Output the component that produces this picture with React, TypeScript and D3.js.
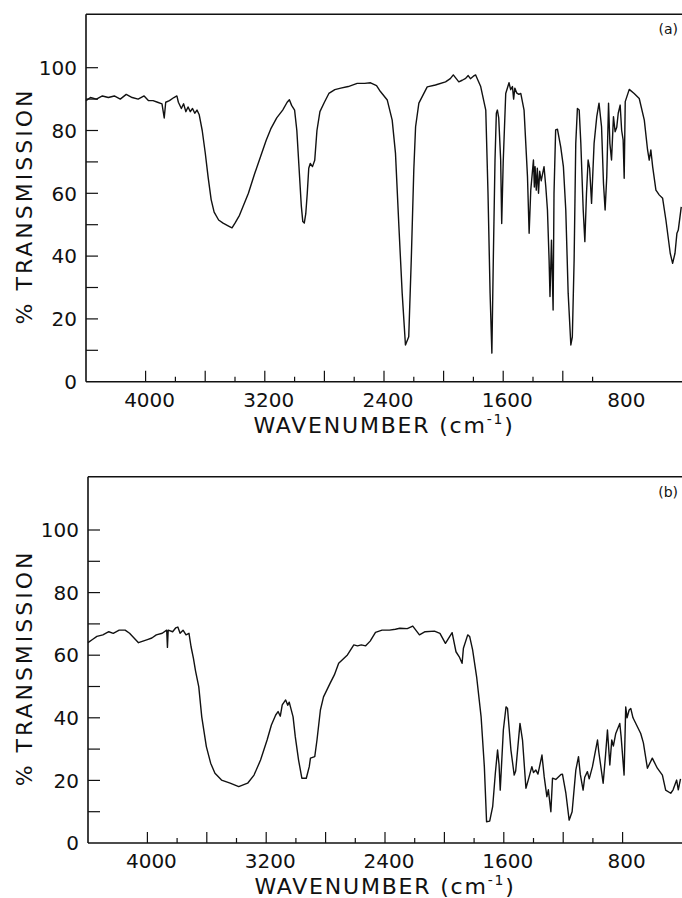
import React from "react";
import * as d3 from "d3";

// ---------- data ----------
const waveA = [
  4400, 4370, 4330, 4290, 4250, 4210, 4170, 4130, 4090, 4050, 4010, 3980, 3950, 3920, 3890, 3875, 3865, 3840,
  3810, 3790, 3780, 3760, 3745, 3730, 3715, 3700, 3685, 3670, 3655, 3640, 3620, 3600, 3580, 3560, 3540, 3510,
  3480, 3440, 3420, 3400, 3370, 3340, 3310, 3270, 3230, 3190, 3160, 3120, 3080, 3050, 3035, 3020, 3000, 2985,
  2970, 2955, 2945, 2935, 2925, 2915, 2905, 2895, 2880, 2865, 2850, 2830, 2800, 2770, 2730, 2690, 2640, 2580,
  2530, 2490, 2450, 2424, 2378, 2345, 2323, 2300, 2278, 2256, 2234, 2217, 2200, 2188, 2166, 2110, 2055, 1987,
  1955, 1935, 1915, 1898, 1875, 1852, 1835, 1820, 1800, 1785, 1751, 1717, 1702, 1688, 1676, 1666, 1655, 1646,
  1639, 1630, 1617, 1610, 1600, 1583, 1561, 1550, 1538, 1530, 1522, 1510, 1495, 1482, 1460, 1437, 1426, 1415,
  1397, 1391, 1386, 1378, 1371, 1363, 1355, 1345, 1326, 1314, 1303, 1292, 1286, 1276, 1265, 1259, 1248, 1236,
  1214, 1196, 1180, 1164, 1146, 1136, 1124, 1113, 1102, 1090, 1079, 1063, 1052, 1041, 1030, 1020, 1007, 990,
  972, 957, 940, 927, 916, 905, 893, 884, 873, 860, 849, 838, 828, 815, 805, 795, 788, 781, 754, 721, 687, 653,
  631, 620, 609, 597, 575, 553, 530, 508, 479, 463, 447, 434, 425, 405,
];
const transA = [
  89.5, 90.5, 90, 91, 90.5, 91, 90, 91.5, 90.5, 90, 91, 89.5, 89.5, 89, 88.5, 84, 89, 89.5,
  90.5, 91, 89, 87, 88.5, 86, 87.5, 86, 87, 85.5, 86.5, 85, 80, 73, 65, 58, 54, 51.5,
  50.5, 49.5, 49, 50.5, 53, 56.5, 60, 66, 71.5, 77, 80.5, 84, 86.5, 89, 89.8, 88, 86.5, 80,
  68, 56, 51, 50.5, 53.5, 60, 68, 69.5, 68.5, 70.5, 80, 86, 89, 91.8, 93, 93.5, 94, 95,
  95, 95.2, 94.3, 92.4, 89.7, 83.3, 72.8, 49.4, 28.2, 11.7, 14.3, 38.8, 67.4, 81.2, 88.7, 93.9, 94.5, 95.5,
  96.5, 97.7, 96.5, 95.5, 96, 96.6, 97.5, 96.5, 97.3, 97.7, 94, 86.5, 60, 28.2, 9.1, 40, 70.6, 85.5,
  86.5, 84, 70.6, 50.4, 70, 91.8, 95.2, 93, 94, 90, 93.5, 92, 91.5, 91.8, 86.5, 65.3, 47.3, 61,
  70.6, 62, 68.5, 61, 68, 60, 67, 64, 68.5, 62, 54.7, 38.8, 27.1, 45.1, 22.8, 60, 80.2, 80.4,
  74.8, 68.5, 54.7, 28.2, 11.7, 14.3, 38.8, 75.9, 87, 86.5, 75.9, 54.7, 44.6, 60, 70.6, 68, 56.8, 75.9,
  84.4, 88.7, 81.2, 63.2, 54.7, 65.3, 88.7, 75.9, 70.6, 84.4, 79.6, 81, 85.5, 88.1, 80, 77, 64.8, 89.2, 93.1, 91.8, 90.2, 83.3,
  73.8, 70.6, 73.8, 68.5, 61, 59.5, 58.4, 51.5, 40.9, 37.7, 40.9, 47.3, 48.3, 55.7,
];

const waveB = [
  4400, 4370, 4340, 4300, 4260, 4230, 4190, 4150, 4120, 4090, 4060, 4030, 4000, 3970, 3940, 3900, 3870, 3865,
  3860, 3830, 3810, 3795, 3780, 3760, 3740, 3720, 3706, 3690, 3676, 3654, 3634, 3603, 3574, 3545, 3501, 3443,
  3385, 3325, 3282, 3238, 3194, 3165, 3136, 3120, 3105, 3092, 3069, 3055, 3045, 3019, 3004, 2982, 2960, 2930,
  2910, 2902, 2873, 2858, 2835, 2814, 2770, 2741, 2712, 2653, 2610, 2585, 2560, 2530, 2500, 2464, 2420, 2370,
  2330, 2300, 2250, 2213, 2168, 2130, 2067, 2030, 1993, 1948, 1922, 1900, 1881, 1872, 1843, 1830, 1810, 1783,
  1753, 1731, 1716, 1695, 1675, 1657, 1642, 1632, 1624, 1603, 1585, 1575, 1552, 1530, 1520, 1491, 1474, 1451,
  1436, 1411, 1400, 1384, 1370, 1343, 1328, 1310, 1300, 1283, 1272, 1250, 1215, 1205, 1182, 1160, 1140, 1115,
  1097, 1085, 1066, 1055, 1037, 1025, 1003, 969, 960, 931, 915, 902, 886, 873, 862, 846, 819, 810, 790, 779,
  770, 756, 745, 730, 678, 660, 633, 600, 566, 532, 510, 476, 460, 436, 425, 410,
];
const transB = [
  64, 65, 66, 66.5, 67.5, 67, 68, 68, 67, 65.5, 64, 64.5, 65, 65.5, 66.5, 67, 68, 62.5,
  68, 67.5, 68.7, 69, 67, 68, 66.5, 67, 62.7, 59, 55, 49.9, 40.3, 30.8, 25.5, 22.3, 20.1, 19.1,
  18, 19.1, 21.7, 26.5, 32.9, 37.7, 40.9, 42, 40.5, 44.1, 45.7, 44, 45, 40.3, 33.9, 26.5, 20.7, 20.7,
  24.4, 27.1, 27.6, 32.9, 42.5, 46.7, 51, 53.7, 57.4, 60.1, 63.3, 63, 63.3, 63, 64.5, 67.3, 68, 68,
  68.3, 68.6, 68.5, 69.3, 66.5, 67.5, 67.7, 67, 63.8, 67.2, 61.1, 59.5, 57.4, 62.2, 66.5, 66, 61.7, 53.1,
  40.4, 24.4, 6.8, 7, 11.6, 22.3, 29.7, 25, 16.9, 36.1, 43.5, 43, 29.7, 21.7, 23, 38.2, 32.9, 17.5,
  20, 24.4, 22.5, 23.3, 22, 28.1, 21.2, 14.8, 17, 10, 20.7, 20.3, 21.9, 22, 15.9, 7.3, 10, 23.3,
  27.6, 22, 16.9, 21, 22.8, 20.5, 24.4, 32.9, 29, 19.1, 28, 36.1, 24.9, 32.9, 31, 35, 38.2, 34, 21.7, 43.5,
  40, 42.5, 43, 40, 35, 32, 23.9, 27.1, 23.9, 21.7, 16.9, 15.9, 17, 20.1, 17, 20.5,
];

const yMinorTicks = [10, 20, 30, 40, 50, 60, 70, 80, 90, 100];
const yLabels = [0, 20, 40, 60, 80, 100];
const xTicksA = [4000, 3800, 3600, 3400, 3200, 3000, 2800, 2600, 2400, 2200, 2000, 1800, 1600, 1400, 1200, 1000];
const xTicksB = [...xTicksA, 800];
const xLabels = [4000, 3200, 2400, 1600, 800];
const panelLabels = ["(a)", "(b)"];

const FONT = "'DejaVu Sans', 'Open Sans', sans-serif";

type PanelProps = {
  waves: number[];
  trans: number[];
  xTicks: number[];
  x0: number;
  x1: number;
  yZero: number;
  yHundred: number;
  label: string;
};

function Panel({ waves, trans, xTicks, x0, x1, yZero, yHundred, label }: PanelProps) {
  const x = d3.scaleLinear().domain([4400, 400]).range([x0, x1]);
  const y = d3.scaleLinear().domain([0, 100]).range([yZero, yHundred]);
  const pts = waves.map((w, i) => [w, trans[i]] as [number, number]);
  const line = d3
    .line<[number, number]>()
    .x((d) => x(d[0]))
    .y((d) => y(d[1]));
  const yTop = y(117);
  const labelCenterY = (y(0) + y(117)) / 2 + 8;
  return (
    <g>
      {/* frame */}
      <line x1={x0} x2={x1} y1={yTop} y2={yTop} stroke="#111" strokeWidth={1.6} />
      <line x1={x0} x2={x0} y1={yTop} y2={y(0)} stroke="#111" strokeWidth={1.6} />
      <line x1={x0} x2={x1} y1={y(0)} y2={y(0)} stroke="#111" strokeWidth={1.6} />
      {/* y ticks */}
      {yMinorTicks.map((t) => (
        <line key={"yt" + t} x1={x0} x2={x0 + 12} y1={y(t)} y2={y(t)} stroke="#111" strokeWidth={1.2} />
      ))}
      {yLabels.map((t) => (
        <text
          key={"yl" + t}
          x={x0 - 9}
          y={y(t)}
          dy="0.36em"
          textAnchor="end"
          fontFamily={FONT}
          fontSize={20}
          fill="#111"
        >
          {t}
        </text>
      ))}
      {/* x ticks */}
      {xTicks.map((t) => (
        <line
          key={"xt" + t}
          x1={x(t)}
          x2={x(t)}
          y1={y(0)}
          y2={y(0) - (t % 400 === 0 ? 11 : 5)}
          stroke="#111"
          strokeWidth={1.2}
        />
      ))}
      {xLabels.map((t) => (
        <text
          key={"xl" + t}
          x={x(t) + 4}
          y={y(0) + 25}
          textAnchor="middle"
          fontFamily={FONT}
          fontSize={20}
          fill="#111"
        >
          {t}
        </text>
      ))}
      {/* axis titles */}
      <text
        x={(x0 + x1) / 2}
        y={y(0) + 51}
        textAnchor="middle"
        fontFamily={FONT}
        fontSize={22}
        letterSpacing={1.8}
        fill="#111"
      >
        WAVENUMBER (cm
        <tspan fontSize={14} dy={-9}>
          -1
        </tspan>
        <tspan dy={9}>)</tspan>
      </text>
      <text
        transform={`translate(32, ${labelCenterY}) rotate(-90)`}
        textAnchor="middle"
        fontFamily={FONT}
        fontSize={22}
        letterSpacing={3}
        fill="#111"
      >
        % TRANSMISSION
      </text>
      <text x={x1 - 4} y={yTop + 20} textAnchor="end" fontFamily={FONT} fontSize={14} fill="#111">
        {label}
      </text>
      {/* spectrum */}
      <path d={line(pts) ?? ""} fill="none" stroke="#111" strokeWidth={1.4} strokeLinejoin="round" />
    </g>
  );
}

export default function App() {
  return (
    <svg width={682} height={898} style={{ position: "absolute", left: 0, top: 0, background: "#fff" }}>
      <rect width={682} height={898} fill="#fff" />
      <Panel
        waves={waveA}
        trans={transA}
        xTicks={xTicksA}
        x0={86}
        x1={682}
        yZero={381.7}
        yHundred={67.7}
        label={panelLabels[0]}
      />
      <Panel
        waves={waveB}
        trans={transB}
        xTicks={xTicksB}
        x0={88}
        x1={682}
        yZero={843}
        yHundred={530}
        label={panelLabels[1]}
      />
    </svg>
  );
}
